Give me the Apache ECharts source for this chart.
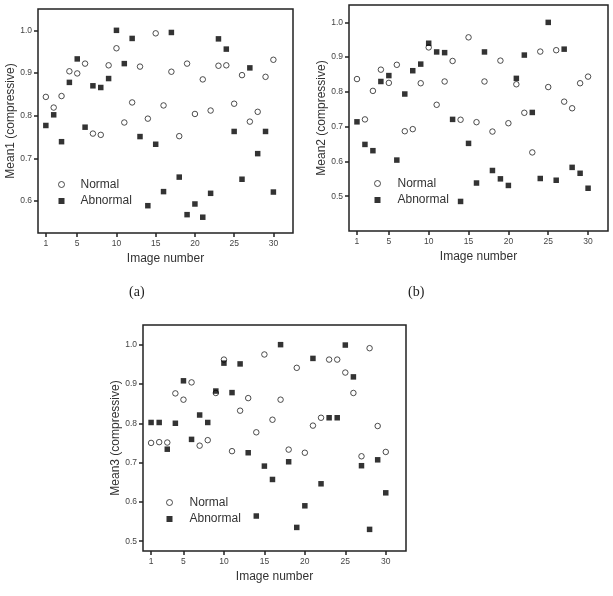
<!DOCTYPE html>
<html>
<head>
<meta charset="utf-8">
<script src="https://cdn.jsdelivr.net/npm/echarts@6/dist/echarts.min.js"></script>
<style>
  html, body { margin: 0; padding: 0; background: #fff; }
  #chart { width: 613px; height: 596px; }
</style>
</head>
<body>
<div id="chart"></div>
<script>
// image number on the x axis
const imageNo = [1, 2, 3, 4, 5, 6, 7, 8, 9, 10, 11, 12, 13, 14, 15, 16, 17, 18, 19, 20, 21, 22, 23, 24, 25, 26, 27, 28, 29, 30]
const xTicks = [1, 5, 10, 15, 20, 25, 30]

// (a) Mean1
const normal1 = [0.844, 0.819, 0.846, 0.904, 0.899, 0.922, 0.758, 0.755, 0.918, 0.958,
  0.784, 0.831, 0.915, 0.793, 0.993, 0.824, 0.903, 0.752, 0.922, 0.804,
  0.885, 0.812, 0.917, 0.918, 0.828, 0.895, 0.786, 0.809, 0.891, 0.931]
const abnormal1 = [0.777, 0.802, 0.739, 0.878, 0.933, 0.773, 0.870, 0.866, 0.887, 1.0,
  0.922, 0.981, 0.751, 0.589, 0.733, 0.622, 0.995, 0.656, 0.568, 0.593,
  0.562, 0.618, 0.980, 0.956, 0.763, 0.651, 0.912, 0.711, 0.763, 0.621]
const yTicks1 = [0.6, 0.7, 0.8, 0.9, 1.0]

// (b) Mean2
const normal2 = [0.837, 0.721, 0.803, 0.864, 0.826, 0.878, 0.687, 0.693, 0.825, 0.928,
  0.763, 0.830, 0.889, 0.720, 0.957, 0.713, 0.830, 0.686, 0.890, 0.710,
  0.822, 0.740, 0.626, 0.916, 0.814, 0.920, 0.772, 0.753, 0.825, 0.844]
const abnormal2 = [0.714, 0.649, 0.631, 0.830, 0.847, 0.604, 0.794, 0.861, 0.880, 0.940,
  0.915, 0.913, 0.721, 0.485, 0.652, 0.538, 0.915, 0.574, 0.550, 0.531,
  0.839, 0.906, 0.741, 0.551, 1.0, 0.546, 0.923, 0.583, 0.566, 0.523]
const yTicks2 = [0.5, 0.6, 0.7, 0.8, 0.9, 1.0]

// (c) Mean3
const normal3 = [0.750, 0.752, 0.751, 0.876, 0.860, 0.904, 0.743, 0.757, 0.877, 0.962,
  0.729, 0.832, 0.864, 0.777, 0.975, 0.809, 0.860, 0.733, 0.941, 0.725,
  0.794, 0.814, 0.962, 0.962, 0.929, 0.877, 0.716, 0.991, 0.793, 0.727]
const abnormal3 = [0.802, 0.802, 0.734, 0.800, 0.908, 0.759, 0.821, 0.802, 0.882, 0.953,
  0.878, 0.951, 0.725, 0.564, 0.691, 0.657, 1.0, 0.702, 0.535, 0.590,
  0.965, 0.646, 0.814, 0.814, 0.999, 0.918, 0.692, 0.530, 0.707, 0.623]
const yTicks3 = [0.5, 0.6, 0.7, 0.8, 0.9, 1.0]

const font = 'Liberation Sans, Arial, sans-serif'

function pairs(vals) {
  return imageNo.map((n, i) => [n, vals[i]])
}

function xAxisFor(idx) {
  return {
    type: 'value',
    gridIndex: idx,
    min: 0,
    max: 32.5,
    name: 'Image number',
    nameLocation: 'middle',
    nameGap: 20,
    nameTextStyle: { fontFamily: font, fontSize: 12, color: '#333' },
    axisLine: { show: false },
    axisTick: { show: true, inside: false, length: 4, customValues: xTicks, lineStyle: { color: '#222', width: 1.5 } },
    axisLabel: { customValues: xTicks, margin: 6, fontFamily: font, fontSize: 8.5, color: '#444' },
    splitLine: { show: false }
  }
}

function yAxisFor(idx, min, ticks, name, gap) {
  return {
    type: 'value',
    gridIndex: idx,
    min: min,
    max: 1.05,
    name: name,
    nameLocation: 'middle',
    nameGap: gap,
    nameTextStyle: { fontFamily: font, fontSize: 12, color: '#333' },
    axisLine: { show: false },
    axisTick: { show: true, inside: false, length: 4, customValues: ticks, lineStyle: { color: '#222', width: 1.5 } },
    axisLabel: { customValues: ticks, margin: 6, fontFamily: font, fontSize: 8.5, color: '#444', formatter: v => v.toFixed(1) },
    splitLine: { show: false }
  }
}

function normalSeries(idx, vals) {
  return {
    name: 'Normal',
    type: 'scatter',
    xAxisIndex: idx,
    yAxisIndex: idx,
    symbol: 'circle',
    symbolSize: 5.5,
    itemStyle: { color: '#fff', borderColor: '#222', borderWidth: 1 },
    data: pairs(vals)
  }
}

function abnormalSeries(idx, vals) {
  return {
    name: 'Abnormal',
    type: 'scatter',
    xAxisIndex: idx,
    yAxisIndex: idx,
    symbol: 'rect',
    symbolSize: 5.5,
    itemStyle: { color: '#000' },
    data: pairs(vals)
  }
}

function legendFor(left, top, pad) {
  return {
    orient: 'vertical',
    left: left,
    top: top,
    padding: 0,
    itemWidth: 6,
    itemHeight: 6,
    itemGap: 3.5,
    selectedMode: false,
    textStyle: { fontFamily: font, fontSize: 12, color: '#333', lineHeight: 13, padding: [0, 0, 0, pad] },
    data: [
      { name: 'Normal', icon: 'circle', itemStyle: { color: '#fff', borderColor: '#222', borderWidth: 1 } },
      { name: 'Abnormal', icon: 'rect', itemStyle: { color: '#000', borderWidth: 0 } }
    ]
  }
}

const gridStyle = { show: true, borderColor: '#222', borderWidth: 1.5, backgroundColor: 'transparent' }

const myChart = echarts.init(document.getElementById('chart'))
const option = {
  animation: false,
  backgroundColor: '#fff',
  title: [
    { text: '(a)', left: 129, top: 285, padding: 0, textStyle: { fontFamily: 'Liberation Serif, Times New Roman, serif', fontSize: 14, fontWeight: 'normal', color: '#222' } },
    { text: '(b)', left: 408, top: 285, padding: 0, textStyle: { fontFamily: 'Liberation Serif, Times New Roman, serif', fontSize: 14, fontWeight: 'normal', color: '#222' } }
  ],
  grid: [
    Object.assign({ left: 38, top: 9, width: 255, height: 224 }, gridStyle),
    Object.assign({ left: 349, top: 5, width: 259, height: 226 }, gridStyle),
    Object.assign({ left: 143, top: 325, width: 263, height: 226 }, gridStyle)
  ],
  xAxis: [xAxisFor(0), xAxisFor(1), xAxisFor(2)],
  yAxis: [
    yAxisFor(0, 0.525, yTicks1, 'Mean1 (compressive)', 21),
    yAxisFor(1, 0.4, yTicks2, 'Mean2 (compressive)', 21),
    yAxisFor(2, 0.475, yTicks3, 'Mean3 (compressive)', 19)
  ],
  legend: [
    legendFor(58, 178, 11),
    legendFor(374, 177, 12),
    legendFor(166, 496, 12)
  ],
  series: [
    normalSeries(0, normal1), abnormalSeries(0, abnormal1),
    normalSeries(1, normal2), abnormalSeries(1, abnormal2),
    normalSeries(2, normal3), abnormalSeries(2, abnormal3)
  ]
}
myChart.setOption(option)
</script>
</body>
</html>
